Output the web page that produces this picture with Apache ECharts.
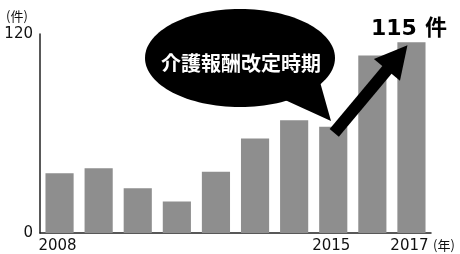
<!DOCTYPE html>
<html>
<head>
<meta charset="utf-8">
<script src="https://cdn.jsdelivr.net/npm/echarts@6/dist/echarts.min.js"></script>
<style>
html,body{margin:0;padding:0;background:#fff;}
#main{width:460px;height:254px;}
</style>
</head>
<body>
<div id="main"></div>
<script>
var years = ['2008','2009','2010','2011','2012','2013','2014','2015','2016','2017'];
var counts = [36, 39, 27, 19, 37, 57, 68, 64, 107, 115];
var shownYears = ['2008','2015','2017'];
var yTicks = [0, 120];

var font = '"Noto Sans CJK JP", "Noto Sans", sans-serif';
var numFont = '"DejaVu Sans", sans-serif';
var myChart = echarts.init(document.getElementById('main'));

var option = {
    animation: false,
    grid: {left: 40, right: 29, top: 34, bottom: 20},
    xAxis: {
        type: 'category',
        data: years,
        axisLine: {lineStyle: {color: '#222', width: 1.5}},
        axisTick: {show: false},
        axisLabel: {
            interval: function (i, v) { return shownYears.indexOf(v) >= 0; },
            color: '#111',
            fontFamily: numFont,
            fontSize: 15,
            margin: 6,
            padding: [0, 4, 0, 0]
        }
    },
    yAxis: {
        type: 'value',
        min: yTicks[0],
        max: yTicks[1],
        interval: yTicks[1] - yTicks[0],
        axisLine: {show: true, lineStyle: {color: '#222', width: 1.5}},
        axisTick: {show: false},
        splitLine: {show: false},
        axisLabel: {color: '#111', fontFamily: numFont, fontSize: 15, margin: 7}
    },
    series: [{
        type: 'bar',
        data: counts,
        barCategoryGap: '28%',
        itemStyle: {color: '#8e8e8e'}
    }]
};
myChart.setOption(option);

// annotations anchored to the bars
var p15 = myChart.convertToPixel({seriesIndex: 0}, ['2015', counts[7]]);
var p17 = myChart.convertToPixel({seriesIndex: 0}, ['2017', counts[9]]);
var sx = p15[0] + 1, sy = p15[1] + 6;
var tx = p17[0] - 4, ty = p17[1] + 3;
var dx = tx - sx, dy = ty - sy, len = Math.sqrt(dx * dx + dy * dy);
var ux = dx / len, uy = dy / len, nx = -uy, ny = ux;
var headLen = 32, headW = 17;
var bx = tx - ux * headLen, by = ty - uy * headLen;

myChart.setOption({
    graphic: [
        {type: 'text', z: 100, left: 6, top: 10, style: {text: '(件)', font: '13px ' + font, fill: '#111'}},
        {type: 'text', z: 100, left: 433, top: 239, style: {text: '(年)', font: '13px ' + font, fill: '#111'}},
        {type: 'ellipse', z: 100, shape: {cx: 240, cy: 58, rx: 95, ry: 49}, style: {fill: '#000'}},
        {type: 'polygon', z: 100, shape: {points: [[285, 100], [331, 121], [320, 82]]}, style: {fill: '#000'}},
        {type: 'text', z: 101, x: 241, y: 63, style: {
            text: '介護報酬改定時期', font: 'bold 20px ' + font, fill: '#fff',
            align: 'center', verticalAlign: 'middle'}},
        {type: 'line', z: 100, shape: {x1: sx, y1: sy, x2: bx + ux * 2, y2: by + uy * 2},
            style: {stroke: '#000', lineWidth: 12}},
        {type: 'polygon', z: 100, shape: {points: [[tx, ty], [bx + nx * headW, by + ny * headW], [bx - nx * headW, by - ny * headW]]},
            style: {fill: '#000'}},
        {type: 'text', z: 100, left: 371, top: 18, style: {
            text: '115', font: 'bold 22px ' + numFont, fill: '#000'}},
        {type: 'text', z: 100, left: 425, top: 16, style: {
            text: '件', font: 'bold 22px ' + font, fill: '#000'}}
    ]
});
</script>
</body>
</html>
